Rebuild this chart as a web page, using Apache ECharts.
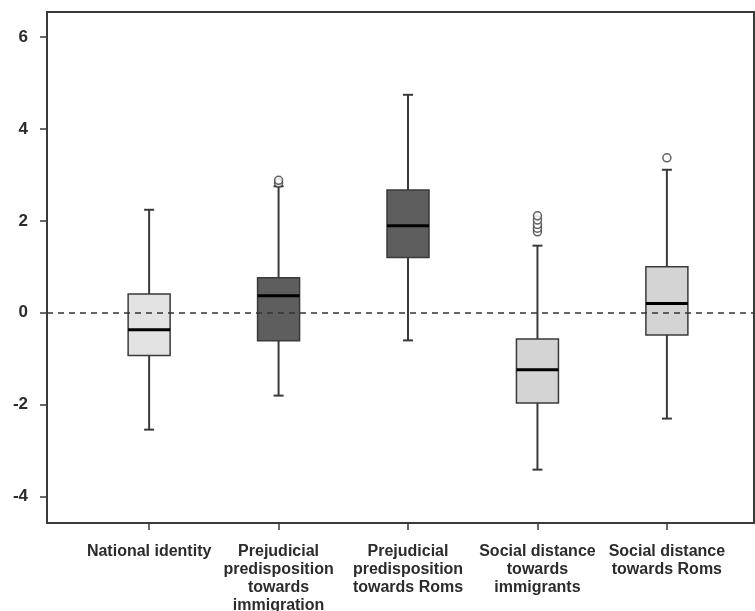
<!DOCTYPE html>
<html>
<head>
<meta charset="utf-8">
<script src="https://cdn.jsdelivr.net/npm/echarts@6/dist/echarts.min.js"></script>
<style>
  html, body { margin: 0; padding: 0; background: #fff; }
  #chart { width: 755px; height: 611px; }
</style>
</head>
<body>
<div id="chart"></div>
<script>
// categories along the x axis (placed at 1..5 on a value axis)
const categories = [
  'National identity',
  'Prejudicial\npredisposition\ntowards\nimmigration',
  'Prejudicial\npredisposition\ntowards Roms',
  'Social distance\ntowards\nimmigrants',
  'Social distance\ntowards Roms'
];
// box stats: [lower whisker, Q1, median, Q3, upper whisker]
const boxStats = [
  [-2.54, -0.93, -0.37, 0.41, 2.24],
  [-1.80, -0.61, 0.37, 0.76, 2.75],
  [-0.60, 1.20, 1.89, 2.67, 4.74],
  [-3.41, -1.96, -1.24, -0.57, 1.46],
  [-2.30, -0.48, 0.20, 1.00, 3.11]
];
// outliers: [category number, value]
const outliers = [
  [2, 2.82], [2, 2.88],
  [4, 1.76], [4, 1.84], [4, 1.92], [4, 2.02], [4, 2.11],
  [5, 3.37]
];
const yTicks = [-4, -2, 0, 2, 4, 6];
const xTicks = [1, 2, 3, 4, 5];

// fill per box
const boxFill = ['#e3e3e3', '#5e5e5e', '#5e5e5e', '#d4d4d4', '#d4d4d4'];

let chart = echarts.init(document.getElementById('chart'), null, { renderer: 'canvas' });

chart.setOption({
  animation: false,
  backgroundColor: '#fff',
  grid: {
    left: 47, right: 1, top: 12, bottom: 88,
    outerBoundsMode: 'none',
    containLabel: false,
    show: true,
    borderColor: '#3a3a3a',
    borderWidth: 2
  },
  xAxis: {
    type: 'value',
    min: 0.211,
    max: 5.673,
    splitLine: { show: false },
    axisLine: { show: true, onZero: false, lineStyle: { color: '#3a3a3a', width: 2 } },
    axisTick: {
      show: true,
      customValues: xTicks,
      length: 7,
      lineStyle: { color: '#3a3a3a', width: 1.5 }
    },
    axisLabel: {
      customValues: xTicks,
      formatter: v => categories[v - 1],
      margin: 20,
      fontFamily: 'Liberation Sans',
      fontWeight: 'bold',
      fontSize: 16,
      lineHeight: 18,
      color: '#2b2b2b',
      align: 'center',
      verticalAlign: 'top'
    }
  },
  yAxis: {
    type: 'value',
    min: -4.57,
    max: 6.54,
    splitLine: { show: false },
    axisLine: { show: true, onZero: false, lineStyle: { color: '#3a3a3a', width: 2 } },
    axisTick: {
      customValues: yTicks,
      length: 7,
      lineStyle: { color: '#3a3a3a', width: 1.5 }
    },
    axisLabel: {
      customValues: yTicks,
      margin: 19,
      fontFamily: 'Liberation Sans',
      fontWeight: 'bold',
      fontSize: 17,
      color: '#2b2b2b'
    }
  },
  series: [
    {
      type: 'custom',
      data: boxStats.map((b, i) => [i + 1].concat(b)),
      encode: { x: 0, y: [1, 2, 3, 4, 5] },
      renderItem(params, api) {
        const x = api.value(0);
        const lo = api.coord([x, api.value(1)]);
        const q1 = api.coord([x, api.value(2)]);
        const med = api.coord([x, api.value(3)]);
        const q3 = api.coord([x, api.value(4)]);
        const hi = api.coord([x, api.value(5)]);
        const half = 21, cap = 5;
        const edge = { stroke: '#3a3a3a', lineWidth: 2 };
        return {
          type: 'group',
          children: [
            { type: 'line', shape: { x1: hi[0], y1: hi[1], x2: q3[0], y2: q3[1] }, style: edge },
            { type: 'line', shape: { x1: q1[0], y1: q1[1], x2: lo[0], y2: lo[1] }, style: edge },
            { type: 'line', shape: { x1: hi[0] - cap, y1: hi[1], x2: hi[0] + cap, y2: hi[1] }, style: edge },
            { type: 'line', shape: { x1: lo[0] - cap, y1: lo[1], x2: lo[0] + cap, y2: lo[1] }, style: edge },
            {
              type: 'rect',
              shape: { x: q3[0] - half, y: q3[1], width: half * 2, height: q1[1] - q3[1] },
              style: { fill: boxFill[params.dataIndex], stroke: '#3a3a3a', lineWidth: 1.5 }
            },
            {
              type: 'line',
              shape: { x1: med[0] - half, y1: med[1], x2: med[0] + half, y2: med[1] },
              style: { stroke: '#000', lineWidth: 3 }
            }
          ]
        };
      },
      markLine: {
        silent: true,
        symbol: 'none',
        label: { show: false },
        lineStyle: { color: '#333', type: [6, 5], width: 1.5 },
        data: [{ yAxis: 0 }]
      },
      z: 2
    },
    {
      type: 'scatter',
      data: outliers,
      symbol: 'circle',
      symbolSize: 8,
      itemStyle: { color: '#fff', borderColor: '#3a3a3a', borderWidth: 1.5 },
      z: 3
    }
  ]
});
</script>
</body>
</html>
